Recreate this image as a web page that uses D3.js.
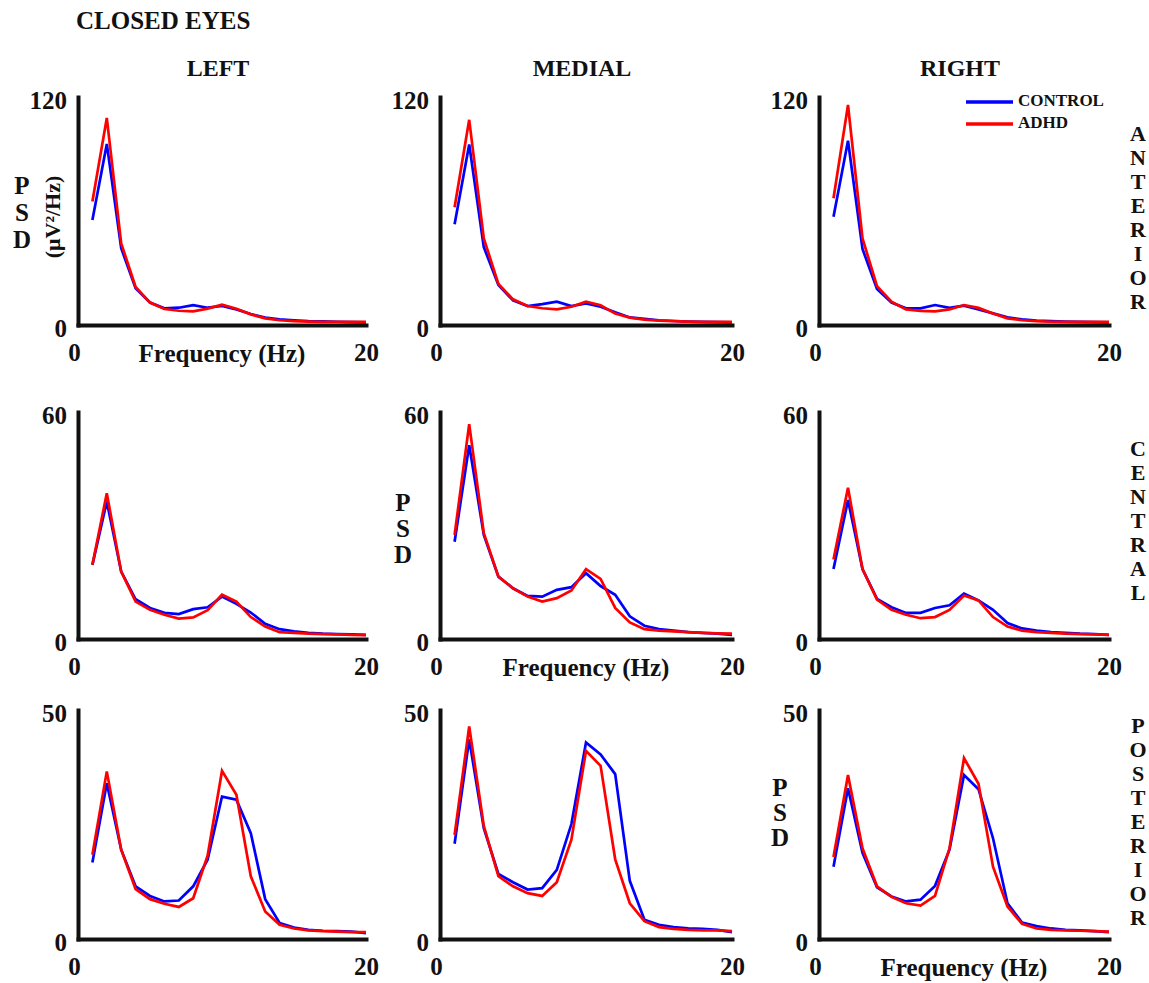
<!DOCTYPE html>
<html>
<head>
<meta charset="utf-8">
<script src="https://cdn.jsdelivr.net/npm/d3@7"></script>
<style>
  body { margin: 0; background: #fff; }
  svg text { font-family: "Liberation Serif", "Times New Roman", serif; font-weight: bold; fill: #111; }
</style>
</head>
<body>
<div id="chart"></div>
<script>
// frequency bins (Hz)
const freqs = [1, 2, 3, 4, 5, 6, 7, 8, 9, 10, 11, 12, 13, 14, 15, 16, 17, 18, 19, 20];
const colNames = ['LEFT', 'MEDIAL', 'RIGHT'];
const rowNames = ['ANTERIOR', 'CENTRAL', 'POSTERIOR'];
const yMaxes = [120, 60, 50];
const xTicks = [0, 20];

// anterior
const ctlAntLeft  = [55.3, 95.3, 40.4, 19.3, 11.8, 8.8, 9.1, 10.5, 9.1, 10.0, 8.2, 5.8, 3.9, 3.0, 2.5, 2.1, 1.9, 1.7, 1.5, 1.4];
const adhdAntLeft = [65.0, 109.0, 43.0, 20.0, 11.8, 8.4, 7.5, 7.2, 8.6, 10.7, 8.6, 5.6, 3.5, 2.5, 2.0, 1.8, 1.6, 1.6, 1.6, 1.6];
const ctlAntMed   = [53.0, 95.0, 41.0, 21.0, 13.0, 10.0, 11.0, 12.3, 10.0, 11.4, 9.6, 6.7, 4.0, 3.2, 2.5, 2.1, 1.8, 1.6, 1.5, 1.4];
const adhdAntMed  = [62.0, 108.0, 45.6, 21.6, 13.5, 10.0, 8.8, 8.2, 9.6, 12.3, 10.4, 6.0, 3.9, 2.8, 2.3, 2.0, 1.8, 1.6, 1.6, 1.6];
const ctlAntRight = [57.0, 97.0, 40.0, 19.0, 11.8, 8.8, 8.8, 10.5, 9.0, 10.2, 8.2, 6.1, 4.0, 3.0, 2.3, 2.0, 1.8, 1.6, 1.5, 1.4];
const adhdAntRight= [66.7, 115.8, 45.6, 20.5, 12.3, 8.2, 7.4, 7.2, 8.2, 10.5, 9.0, 6.0, 3.5, 2.5, 2.0, 1.7, 1.6, 1.6, 1.6, 1.6];

// central
const ctlCenLeft  = [19.6, 36.3, 17.8, 10.5, 8.2, 6.9, 6.6, 7.9, 8.4, 11.2, 9.3, 7.0, 4.0, 2.6, 2.0, 1.6, 1.4, 1.3, 1.2, 1.1];
const adhdCenLeft = [19.6, 38.5, 17.8, 9.9, 7.7, 6.4, 5.4, 5.7, 7.6, 11.7, 9.9, 5.8, 3.3, 1.8, 1.6, 1.4, 1.3, 1.2, 1.1, 1.0];
const ctlCenMed   = [25.7, 51.2, 27.5, 16.5, 13.4, 11.4, 11.2, 13.0, 13.7, 17.4, 14.0, 11.7, 6.0, 3.5, 2.6, 2.2, 1.8, 1.6, 1.4, 1.1];
const adhdCenMed  = [27.5, 56.8, 28.0, 16.5, 13.4, 11.2, 9.9, 10.8, 12.8, 18.5, 15.9, 8.2, 4.4, 2.6, 2.2, 2.0, 1.8, 1.6, 1.5, 1.4];
const ctlCenRight = [18.5, 36.7, 18.5, 10.6, 8.4, 6.9, 6.9, 8.2, 8.9, 12.0, 10.2, 7.7, 4.2, 2.8, 2.2, 1.8, 1.6, 1.4, 1.3, 1.1];
const adhdCenRight= [21.0, 40.0, 18.5, 10.4, 7.7, 6.4, 5.5, 5.8, 7.7, 11.5, 10.2, 5.8, 3.3, 2.2, 1.8, 1.6, 1.4, 1.3, 1.2, 1.1];

// posterior
const ctlPosLeft  = [16.7, 34.0, 19.5, 11.5, 9.4, 8.2, 8.4, 11.5, 17.3, 31.1, 30.4, 23.1, 8.7, 3.5, 2.5, 2.0, 1.8, 1.7, 1.6, 1.3];
const adhdPosLeft = [18.4, 36.6, 19.5, 10.9, 8.7, 7.7, 7.0, 8.9, 18.2, 36.7, 31.5, 13.7, 6.0, 3.1, 2.3, 1.9, 1.7, 1.6, 1.5, 1.5];
const ctlPosMed   = [20.8, 43.6, 24.2, 14.2, 12.4, 10.8, 11.1, 15.1, 25.1, 42.9, 40.3, 36.0, 12.7, 4.2, 3.1, 2.6, 2.3, 2.2, 2.0, 1.5];
const adhdPosMed  = [22.7, 46.4, 24.7, 13.7, 11.5, 10.0, 9.4, 12.4, 21.7, 41.1, 37.8, 17.4, 7.8, 3.9, 2.6, 2.2, 2.0, 1.9, 1.9, 1.7];
const ctlPosRight = [15.8, 32.9, 18.8, 11.3, 9.3, 8.2, 8.6, 11.6, 19.5, 35.8, 32.7, 22.0, 7.8, 3.6, 2.8, 2.3, 2.0, 1.9, 1.7, 1.5];
const adhdPosRight= [17.9, 35.8, 19.8, 11.5, 9.2, 7.8, 7.3, 9.4, 19.8, 39.5, 33.9, 15.8, 7.1, 3.3, 2.3, 2.0, 1.9, 1.8, 1.7, 1.6];

const controlSeries = [
  [ctlAntLeft, ctlAntMed, ctlAntRight],
  [ctlCenLeft, ctlCenMed, ctlCenRight],
  [ctlPosLeft, ctlPosMed, ctlPosRight]
];
const adhdSeries = [
  [adhdAntLeft, adhdAntMed, adhdAntRight],
  [adhdCenLeft, adhdCenMed, adhdCenRight],
  [adhdPosLeft, adhdPosMed, adhdPosRight]
];

const W = 1149, H = 983;
// panel layout (pixels)
const colLeft = [78, 440, 819];
const colWidth = [288, 292, 290];
const rowTop = [97, 412, 710];
const rowBottom = [325, 639, 939];
const rowLabelMid = [217, 520, 821];

const BLUE = '#0000ff', RED = '#ff0000';

const svg = d3.select('#chart').append('svg')
  .attr('width', W)
  .attr('height', H);

svg.append('text')
  .attr('x', 76).attr('y', 29)
  .style('font-size', '25px')
  .text('CLOSED EYES');

colNames.forEach((name, c) => {
  svg.append('text')
    .attr('x', colLeft[c] + colWidth[c] / 2 - 4)
    .attr('y', 76)
    .attr('text-anchor', 'middle')
    .style('font-size', '24px')
    .text(name);
});

rowNames.forEach((name, r) => {
  const letters = name.split('');
  const step = 24;
  const y0 = rowLabelMid[r] - step * (letters.length - 1) / 2;
  svg.append('g').selectAll('text')
    .data(letters)
    .enter().append('text')
    .attr('x', 1138)
    .attr('y', (d, i) => y0 + i * step + 8)
    .attr('text-anchor', 'middle')
    .style('font-size', '22px')
    .text(d => d);
});

for (let r = 0; r < 3; r++) {
  for (let c = 0; c < 3; c++) {
    const x = d3.scaleLinear().domain([0, 20]).range([colLeft[c], colLeft[c] + colWidth[c]]);
    const y = d3.scaleLinear().domain([0, yMaxes[r]]).range([rowBottom[r], rowTop[r]]);
    const g = svg.append('g').attr('class', 'panel');

    const line = d3.line()
      .x((d, i) => x(freqs[i]))
      .y(d => y(d));

    g.append('path')
      .datum(controlSeries[r][c])
      .attr('d', line)
      .attr('fill', 'none')
      .attr('stroke', BLUE)
      .attr('stroke-width', 2.7)
      .attr('stroke-linejoin', 'miter');

    g.append('path')
      .datum(adhdSeries[r][c])
      .attr('d', line)
      .attr('fill', 'none')
      .attr('stroke', RED)
      .attr('stroke-width', 2.7)
      .attr('stroke-linejoin', 'miter');

    const yAxis = g.append('g')
      .attr('transform', `translate(${colLeft[c]},0)`)
      .call(d3.axisLeft(y).tickValues([0, yMaxes[r]]).tickSize(0).tickSizeOuter(0).tickPadding(11));
    yAxis.selectAll('text').attr('dy', '0.45em').style('font-size', '25px');

    const xAxis = g.append('g')
      .attr('transform', `translate(0,${rowBottom[r]})`)
      .call(d3.axisBottom(x).tickValues(xTicks).tickSize(0).tickSizeOuter(0).tickPadding(18));
    xAxis.selectAll('text')
      .attr('dx', d => d === 0 ? -4 : 0)
      .style('font-size', '25px');

    g.selectAll('.domain')
      .attr('stroke', '#111')
      .attr('stroke-width', 4)
      .attr('stroke-linecap', 'square');
    g.selectAll('.tick text').attr('fill', '#111');

    // x label and PSD letters only on the diagonal panels
    if (r === c) {
      g.append('text')
        .attr('x', colLeft[c] + colWidth[c] / 2)
        .attr('y', rowBottom[r] + 37)
        .attr('text-anchor', 'middle')
        .style('font-size', '25px')
        .text('Frequency (Hz)');

      const psdX = [22, 403, 780][c];
      const psdY = [[186, 213, 240], [503, 529, 555], [788, 813, 838]][r];
      g.selectAll('.psd')
        .data(['P', 'S', 'D'])
        .enter().append('text')
        .attr('x', psdX)
        .attr('y', (d, i) => psdY[i] + 8)
        .attr('text-anchor', 'middle')
        .style('font-size', '25px')
        .text(d => d);
    }
  }
}

// unit label in first panel
svg.append('text')
  .attr('transform', 'translate(52,217) rotate(-90)')
  .attr('text-anchor', 'middle')
  .attr('dominant-baseline', 'central')
  .style('font-size', '22px')
  .text('(μV²/Hz)');

// legend
const legend = svg.append('g');
[['CONTROL', BLUE, 102], ['ADHD', RED, 124]].forEach(([label, color, ly]) => {
  legend.append('line')
    .attr('x1', 966).attr('x2', 1013)
    .attr('y1', ly).attr('y2', ly)
    .attr('stroke', color)
    .attr('stroke-width', 3.5);
  legend.append('text')
    .attr('x', 1018).attr('y', ly + 4)
    .style('font-size', '17px')
    .text(label);
});
</script>
</body>
</html>
